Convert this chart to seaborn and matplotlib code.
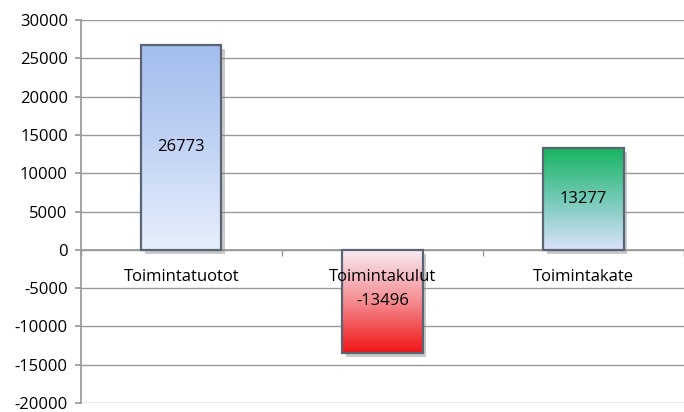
import numpy as np
import pandas as pd
import matplotlib
matplotlib.use("Agg")
import matplotlib.pyplot as plt
import seaborn as sns
from matplotlib.colors import LinearSegmentedColormap
from matplotlib.patches import Rectangle
import matplotlib.patheffects as pe

categories = ["Toimintatuotot", "Toimintakulut", "Toimintakate"]
values = [26773, -13496, 13277]
yticks = list(range(-20000, 30001, 5000))

sns.set_theme(style="white")
plt.rcParams['font.family'] = ['Open Sans', 'DejaVu Sans']

fig = plt.figure(figsize=(6.84, 4.12), dpi=100)
ax = fig.add_axes([0.118, 0.022, 0.882, 0.929])

df = pd.DataFrame({"cat": categories, "val": values})
sns.barplot(data=df, x="cat", y="val", ax=ax, width=0.4, color="white",
            edgecolor="none", linewidth=0, zorder=2)

# gradients (top, middle, bottom colour)
grads = [[(0.64, 0.74, 0.93), (0.76, 0.83, 0.96), (0.91, 0.94, 0.99)],
         [(0.97, 0.93, 0.96), (0.96, 0.55, 0.57), (0.94, 0.08, 0.08)],
         [(0.09, 0.71, 0.37), (0.45, 0.79, 0.72), (0.86, 0.89, 0.98)]]
for patch, cols in zip(list(ax.patches), grads):
    x0, y0 = patch.get_x(), patch.get_y()
    w, h = patch.get_width(), patch.get_height()
    ylo, yhi = min(y0, y0 + h), max(y0, y0 + h)
    patch.set_facecolor("#888888")
    patch.set_path_effects([pe.SimplePatchShadow(offset=(2.5, -3), shadow_rgbFace="#8a8a8a", alpha=0.45)])
    cmap = LinearSegmentedColormap.from_list("g", cols)
    grad = np.linspace(0, 1, 256).reshape(-1, 1)
    ax.imshow(grad, cmap=cmap, aspect="auto",
              extent=[x0, x0 + w, ylo, yhi], origin="upper", zorder=2.5)
    ax.add_patch(Rectangle((x0, y0), w, h, facecolor="none", edgecolor="#5b6472",
                           linewidth=1.6, zorder=3))

ax.set_xlim(-0.5, 2.5)
ax.set_ylim(-20000, 30000)
ax.set_yticks(yticks)
ax.set_yticklabels([str(t) for t in yticks], fontsize=12, color="black")
ax.yaxis.grid(True, color="#999999", linewidth=1, zorder=0)
ax.set_axisbelow(True)
ax.xaxis.set_zorder(4)

for sp in ["top", "right"]:
    ax.spines[sp].set_visible(False)
ax.spines["left"].set_color("#999999")
ax.spines["bottom"].set_color("#999999")
ax.spines["bottom"].set_position(("data", 0))
ax.spines["bottom"].set_zorder(1)

ax.tick_params(axis="y", which="major", left=True, length=4.3, color="#999999", pad=5)
ax.tick_params(axis="x", which="major", bottom=False, labelsize=12, pad=8, labelcolor="black")
ax.set_xticks([-0.5, 0.5, 1.5, 2.5], minor=True)
ax.tick_params(axis="x", which="minor", bottom=True, length=4, color="#999999", direction="out")
ax.set_xlabel("")
ax.set_ylabel("")

ax.bar_label(ax.containers[0], labels=[str(v) for v in values], label_type="center",
             fontsize=12, color="black", zorder=5)

fig.savefig("out.png", dpi=100)
